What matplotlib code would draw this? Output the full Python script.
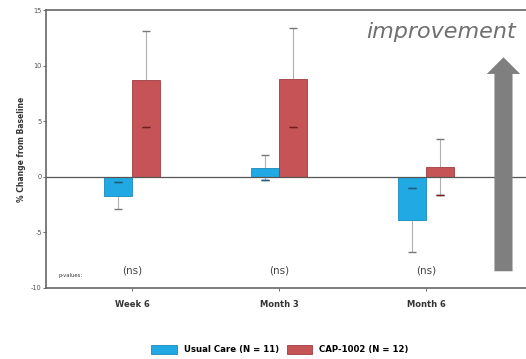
import matplotlib.pyplot as plt
import numpy as np

timepoints = ["Week 6", "Month 3", "Month 6"]
usual_care = [-1.7, 0.8, -3.9]
usual_care_mid = [-0.5, -0.3, -1.0]
usual_care_end = [-2.9, 2.0, -6.8]
cap1002 = [8.7, 8.8, 0.9]
cap1002_mid = [4.5, 4.5, -1.6]
cap1002_end = [13.1, 13.4, 3.4]
p_values = ["(ns)", "(ns)", "(ns)"]

blue = "#21a9e3"
red = "#c65457"

plt.rcParams["axes.unicode_minus"] = False

fig = plt.figure(figsize=(5.26, 3.59), dpi=100)
ax_w = 1.0
ax = fig.add_axes([0.0875, 0.198, ax_w, 0.774])

x = np.arange(len(timepoints))
w = 0.19

# error lines with caps
for xs, lo, hi in [(x - w / 2, usual_care_mid, usual_care_end), (x + w / 2, cap1002_mid, cap1002_end)]:
    ax.vlines(xs, lo, hi, color="#b0b0b0", lw=0.8, zorder=1)
    ax.hlines(lo, xs - 0.03, xs + 0.03, color="#555555", lw=1.0, zorder=3)
    ax.hlines(hi, xs - 0.03, xs + 0.03, color="#777777", lw=1.0, zorder=3)

ax.bar(x - w / 2, usual_care, w, color=blue, edgecolor="#1a88bb", lw=0.6, zorder=2,
       label="Usual Care (N = 11)")
ax.bar(x + w / 2, cap1002, w, color=red, edgecolor="#a03c40", lw=0.6, zorder=2,
       label="CAP-1002 (N = 12)")
# redraw mid marks on top of bars
ax.hlines(usual_care_mid, x - w / 2 - 0.03, x - w / 2 + 0.03, color="#1a5f88", lw=1.0, zorder=3)
ax.hlines(cap1002_mid, x + w / 2 - 0.03, x + w / 2 + 0.03, color="#7a1a1a", lw=1.0, zorder=3)

ax.axhline(0, color="#555555", lw=0.9, zorder=2.5)

for xi, p in zip(x, p_values):
    ax.text(xi, -8.4, p, ha="center", va="center", fontsize=7.5, color="#444444")
ax.text(-0.5, -8.9, "p-values:", fontsize=3.8, color="#333333", va="center")

# 147 px per category step
ax.set_xlim(-0.585, -0.585 + ax_w * 526 / 147)
ax.set_ylim(-10, 15)
ax.set_yticks([-10, -5, 0, 5, 10, 15])
ax.set_xticks(x)
ax.set_xticklabels(timepoints, fontsize=6, fontweight="bold", color="#333333")
ax.tick_params(axis="y", labelsize=4.8, length=2, width=0.6, colors="#555555", pad=1)
ax.tick_params(axis="x", length=2, width=0.6, colors="#555555", pad=7)
for lbl in ax.get_xticklabels():
    lbl.set_color("#333333")
ax.set_ylabel("% Change from Baseline", fontsize=5.5, fontweight="bold", color="#333333", labelpad=4)
for s in ["left", "bottom", "top"]:
    ax.spines[s].set_color("#666666")
    ax.spines[s].set_linewidth(1.2)
ax.spines["right"].set_visible(False)

# improvement arrow
ax.annotate("", xy=(2.527, 11.0), xytext=(2.527, -8.75),
            arrowprops=dict(arrowstyle="simple,head_width=2.4,head_length=1.2,tail_width=1.3",
                            color="#7f7f7f", lw=0), zorder=4)
ax.text(2.61, 13.0, "improvement", fontsize=16, style="italic", color="#6f6f6f",
        family="DejaVu Sans", ha="right", va="center")

fig.legend(loc="lower center", bbox_to_anchor=(0.532, -0.008), ncol=2, frameon=False,
           handlelength=3.0, handleheight=1.2, columnspacing=0.9, handletextpad=0.8,
           prop={"weight": "bold", "size": 6.2})

fig.savefig("out.png", dpi=100)
